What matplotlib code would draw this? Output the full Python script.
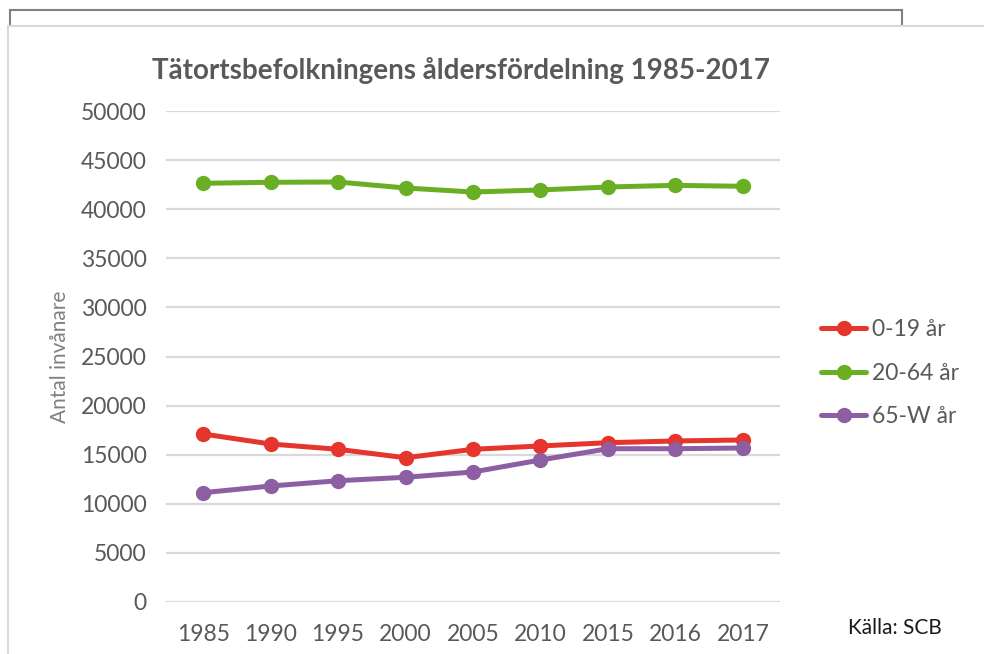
import numpy as np
import matplotlib.pyplot as plt
from matplotlib.patches import Rectangle

plt.rcParams['font.family'] = ['Lato', 'DejaVu Sans']

years = ['1985', '1990', '1995', '2000', '2005', '2010', '2015', '2016', '2017']
age_0_19 = [17110, 16090, 15550, 14690, 15550, 15890, 16220, 16400, 16500]
age_20_64 = [42640, 42740, 42770, 42160, 41750, 41960, 42260, 42430, 42330]
age_65_w = [11130, 11810, 12350, 12700, 13240, 14460, 15610, 15610, 15680]

W, H = 984, 654
fig = plt.figure(figsize=(W / 100, H / 100), dpi=100)

# ramar i bakgrunden (pixelkoordinater -> figurkoordinater)
def px(x, y, w, h):
    return (x / W, 1 - (y + h) / H), w / W, h / H

xy, w, h = px(10, 10, 892, 40)
fig.patches.append(Rectangle(xy, w, h, transform=fig.transFigure, fill=False,
                             edgecolor='#808080', linewidth=1.5, zorder=0))
xy, w, h = px(8, 26, 990, 640)
fig.patches.append(Rectangle(xy, w, h, transform=fig.transFigure, facecolor='white',
                             edgecolor='#d9d9d9', linewidth=1.5, zorder=1))

ax = fig.add_axes([166 / W, 52 / H, 614 / W, 491 / H], zorder=2)
ax.patch.set_alpha(0)

x = np.arange(len(years))
series = [
    ('0-19 år', age_0_19, '#e5352c'),
    ('20-64 år', age_20_64, '#6aaf23'),
    ('65-W år', age_65_w, '#8e5ea2'),
]
for label, vals, col in series:
    ax.plot(x, vals, color=col, lw=3.6, marker='o', ms=10, label=label,
            solid_capstyle='round', zorder=3)

ax.set_xlim(-0.55, len(years) - 0.45)
ax.set_ylim(0, 50000)
ax.set_yticks(np.arange(0, 50001, 5000))
ax.set_xticks(x)
ax.set_xticklabels(years)
ax.grid(axis='y', color='#d9d9d9', lw=1.6)
ax.set_axisbelow(True)
for s in ax.spines.values():
    s.set_visible(False)
ax.tick_params(length=0, labelsize=16.5, labelcolor='#595959')
ax.tick_params(axis='y', pad=14)
ax.tick_params(axis='x', pad=16)
ax.set_ylabel('Antal invånare', fontsize=15, color='#808080', labelpad=8)

fig.text(461 / W, 1 - 70 / H, 'Tätortsbefolkningens åldersfördelning 1985-2017',
         ha='center', va='center', fontsize=20, fontweight='bold', color='#595959')

ax.legend(loc='upper left', bbox_to_anchor=(800 / W, 1 - 298 / H),
          bbox_transform=fig.transFigure, frameon=False, fontsize=16.5,
          labelcolor='#595959', handlelength=2.0, handletextpad=0.25,
          labelspacing=1.0)

fig.text(895 / W, 1 - 628 / H, 'Källa: SCB', ha='center', va='center',
         fontsize=15, color='#1a1a1a')

fig.savefig('out.png', dpi=100)
